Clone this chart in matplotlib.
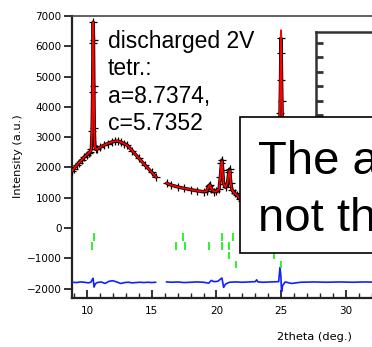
import numpy as np
import matplotlib
matplotlib.use('Agg')
import matplotlib.pyplot as plt
from matplotlib.patches import Rectangle
from matplotlib.ticker import MultipleLocator

# ---------------- Rietveld fit, discharged 2V ----------------
# first measured range (before the excluded region)
tt1 = [8.85, 9.0, 9.2, 9.4, 9.6, 9.8, 10.0, 10.15, 10.25, 10.34, 10.40, 10.44,
       10.47, 10.49, 10.51, 10.54, 10.57, 10.62, 10.68, 10.8, 11.0, 11.3, 11.6,
       11.9, 12.2, 12.4, 12.6, 12.9, 13.1, 13.5, 14.0, 14.5, 15.0, 15.35]
obs1 = [1880, 1960, 2070, 2160, 2250, 2340, 2420, 2480, 2520, 2600, 3200, 4500,
        6100, 6800, 6200, 4700, 3300, 2700, 2600, 2610, 2660, 2730, 2790,
        2840, 2870, 2870, 2840, 2780, 2740, 2550, 2310, 2070, 1840, 1680]
calc1 = [1880, 1960, 2070, 2160, 2250, 2340, 2420, 2480, 2520, 2590, 3300, 4700,
         6300, 6800, 6300, 4600, 3200, 2680, 2600, 2610, 2660, 2730, 2790,
         2840, 2870, 2870, 2840, 2780, 2740, 2550, 2310, 2070, 1840, 1680]

# second range
tt2 = [16.15, 16.5, 17.0, 17.5, 18.0, 18.5, 19.0, 19.25, 19.4, 19.5, 19.6, 19.8,
       20.0, 20.2, 20.3, 20.38, 20.42, 20.48, 20.55, 20.7, 20.85, 20.95, 21.02,
       21.1, 21.2, 21.4, 21.6, 21.8, 22.0, 22.5, 23.0, 23.5, 24.0, 24.5, 24.8,
       24.9, 24.94, 24.97, 25.0, 25.05, 25.12, 25.3, 26.0, 28.0, 30.0, 32.0, 34.0]
obs2 = [1480, 1420, 1360, 1310, 1270, 1230, 1200, 1220, 1400, 1430, 1300, 1200,
        1210, 1300, 1700, 2150, 2250, 1900, 1450, 1350, 1500, 1850, 1950,
        1500, 1250, 1150, 1080, 960, 900, 850, 820, 800, 790, 900, 2000,
        3800, 4880, 6270, 5780, 4200, 2500, 900, 800, 750, 700, 680, 650]
calc2 = [1480, 1420, 1360, 1310, 1270, 1230, 1200, 1220, 1380, 1420, 1300, 1200,
         1210, 1300, 1750, 2200, 2200, 1850, 1450, 1350, 1500, 1800, 1900,
         1500, 1250, 1150, 1080, 960, 900, 850, 820, 800, 790, 900, 2000,
         4000, 5500, 6530, 5900, 4300, 2500, 900, 800, 750, 700, 680, 650]

# difference curve (obs - calc), drawn with offset
dtt1 = [8.85, 9.2, 9.5, 9.8, 10.1, 10.3, 10.42, 10.48, 10.55, 10.65, 10.8, 11.1,
        11.4, 11.7, 12.0, 12.3, 12.6, 12.9, 13.2, 13.5, 13.8, 14.1, 14.4, 14.7,
        15.0, 15.3]
diff1 = [-1790, -1800, -1780, -1790, -1810, -1790, -1700, -1660, -1950, -1840,
         -1800, -1780, -1830, -1760, -1740, -1780, -1830, -1800, -1790, -1810,
         -1800, -1790, -1800, -1790, -1800, -1790]
dtt2 = [16.15, 16.6, 17.0, 17.5, 18.0, 18.5, 19.0, 19.4, 19.6, 19.8, 20.1,
        20.3, 20.42, 20.55, 20.7, 21.0, 21.5, 22.0, 22.5, 23.0, 23.1, 23.2,
        23.6, 24.2, 24.8, 24.9, 24.97, 25.02, 25.1, 25.3, 25.8, 26.5, 27.5,
        28.5, 29.5, 30.5, 31.5, 32.5, 34.0]
diff2 = [-1780, -1790, -1780, -1800, -1790, -1780, -1790, -1820, -1730, -1770,
         -1760, -1690, -1650, -1960, -1850, -1790, -1780, -1790, -1780, -1770,
         -1710, -1780, -1790, -1780, -1770, -1300, -1600, -2100, -1900, -1780,
         -1830, -1790, -1780, -1790, -1780, -1790, -1780, -1790, -1780]

# Bragg reflection markers, one list per row
bragg_a = [10.55, 17.4, 20.4, 21.3]
bragg_b = [10.42, 16.9, 17.55, 19.4, 20.45, 21.0]
bragg_c = [21.0, 24.4]
bragg_d = [21.5, 25.0]
rows = [(bragg_a, -170, -430), (bragg_b, -460, -730),
        (bragg_c, -790, -1020), (bragg_d, -1090, -1320)]

xticks = [10, 15, 20, 25, 30]

W, H = 372, 347
def fx(px):
    return px / W
def fy(py):
    return 1 - py / H

fig = plt.figure(figsize=(W / 100, H / 100), dpi=100)
fig.patch.set_facecolor('white')

ax = fig.add_axes([fx(72), fy(298), (556 - 72) / W, (298 - 16) / H])
for x, o, c in [(tt1, obs1, calc1), (tt2, obs2, calc2)]:
    ax.plot(x, o, color='black', lw=2.4, solid_capstyle='round', zorder=2)
    ax.plot(x, o, ls='none', marker='+', ms=5.5, mew=0.9, color='black', zorder=3)
    ax.plot(x, c, color='red', lw=1.3, zorder=4)
for x, d in [(dtt1, diff1), (dtt2, diff2)]:
    ax.plot(x, d, color='#1020ff', lw=1.2, zorder=3)
for pos, lo, hi in rows:
    ax.vlines(pos, hi, lo, color='#22ee22', lw=1.3, zorder=3)

ax.set_xlim(8.85, 46.2)
ax.set_ylim(-2310, 7000)
ax.set_xticks(xticks)
ax.xaxis.set_minor_locator(MultipleLocator(1))
ax.yaxis.set_major_locator(MultipleLocator(1000))
ax.tick_params(axis='x', which='major', direction='in', length=6, width=1.3,
               labelsize=7.5, pad=6, colors='#222')
ax.tick_params(axis='x', which='minor', direction='in', length=3.5, width=1.0,
               colors='#222')
ax.tick_params(axis='y', direction='out', length=6, width=1.3, labelsize=7.5,
               pad=1.5, colors='#222')
ax.tick_params(labelcolor='black')
for s in ['left', 'bottom']:
    ax.spines[s].set_linewidth(1.6)
    ax.spines[s].set_color('#222')
ax.spines['top'].set_linewidth(1.2)
ax.spines['top'].set_color('#444')
ax.spines['right'].set_visible(False)

fig.text(fx(18), fy(156), 'Intensity (a.u.)', rotation=90, ha='center',
         va='center', fontsize=8.2)
fig.text(fx(314), fy(337), '2theta (deg.)', ha='center', va='center',
         fontsize=8.2)

fig.text(fx(108), fy(30), 'discharged 2V\ntetr.:\na=8.7374,\nc=5.7352',
         family='Liberation Sans', fontsize=16.5, ha='left', va='top',
         linespacing=1.24, zorder=4)

# inset frame on the right
ax2 = fig.add_axes([fx(316), fy(186), 1, (186 - 32) / H])
ax2.set_ylim(0.07, 10.76)
ax2.set_yticks(range(1, 11))
ax2.set_xticks([])
ax2.tick_params(axis='y', direction='in', length=5, width=2, labelleft=False,
                colors='#333')
for s in ax2.spines.values():
    s.set_linewidth(1.8)
    s.set_color('#333')

# overlaid note box
fig.patches.append(Rectangle((fx(240), fy(253)), 1, (253 - 117) / H,
                             transform=fig.transFigure, facecolor='white',
                             edgecolor='black', lw=1.2, zorder=5))
fig.text(fx(258), fy(174), 'The a', family='Liberation Sans', fontsize=34,
         ha='left', va='baseline', zorder=6)
fig.text(fx(258), fy(231), 'not th', family='Liberation Sans', fontsize=34,
         ha='left', va='baseline', zorder=6)

fig.savefig('out.png', dpi=100)
